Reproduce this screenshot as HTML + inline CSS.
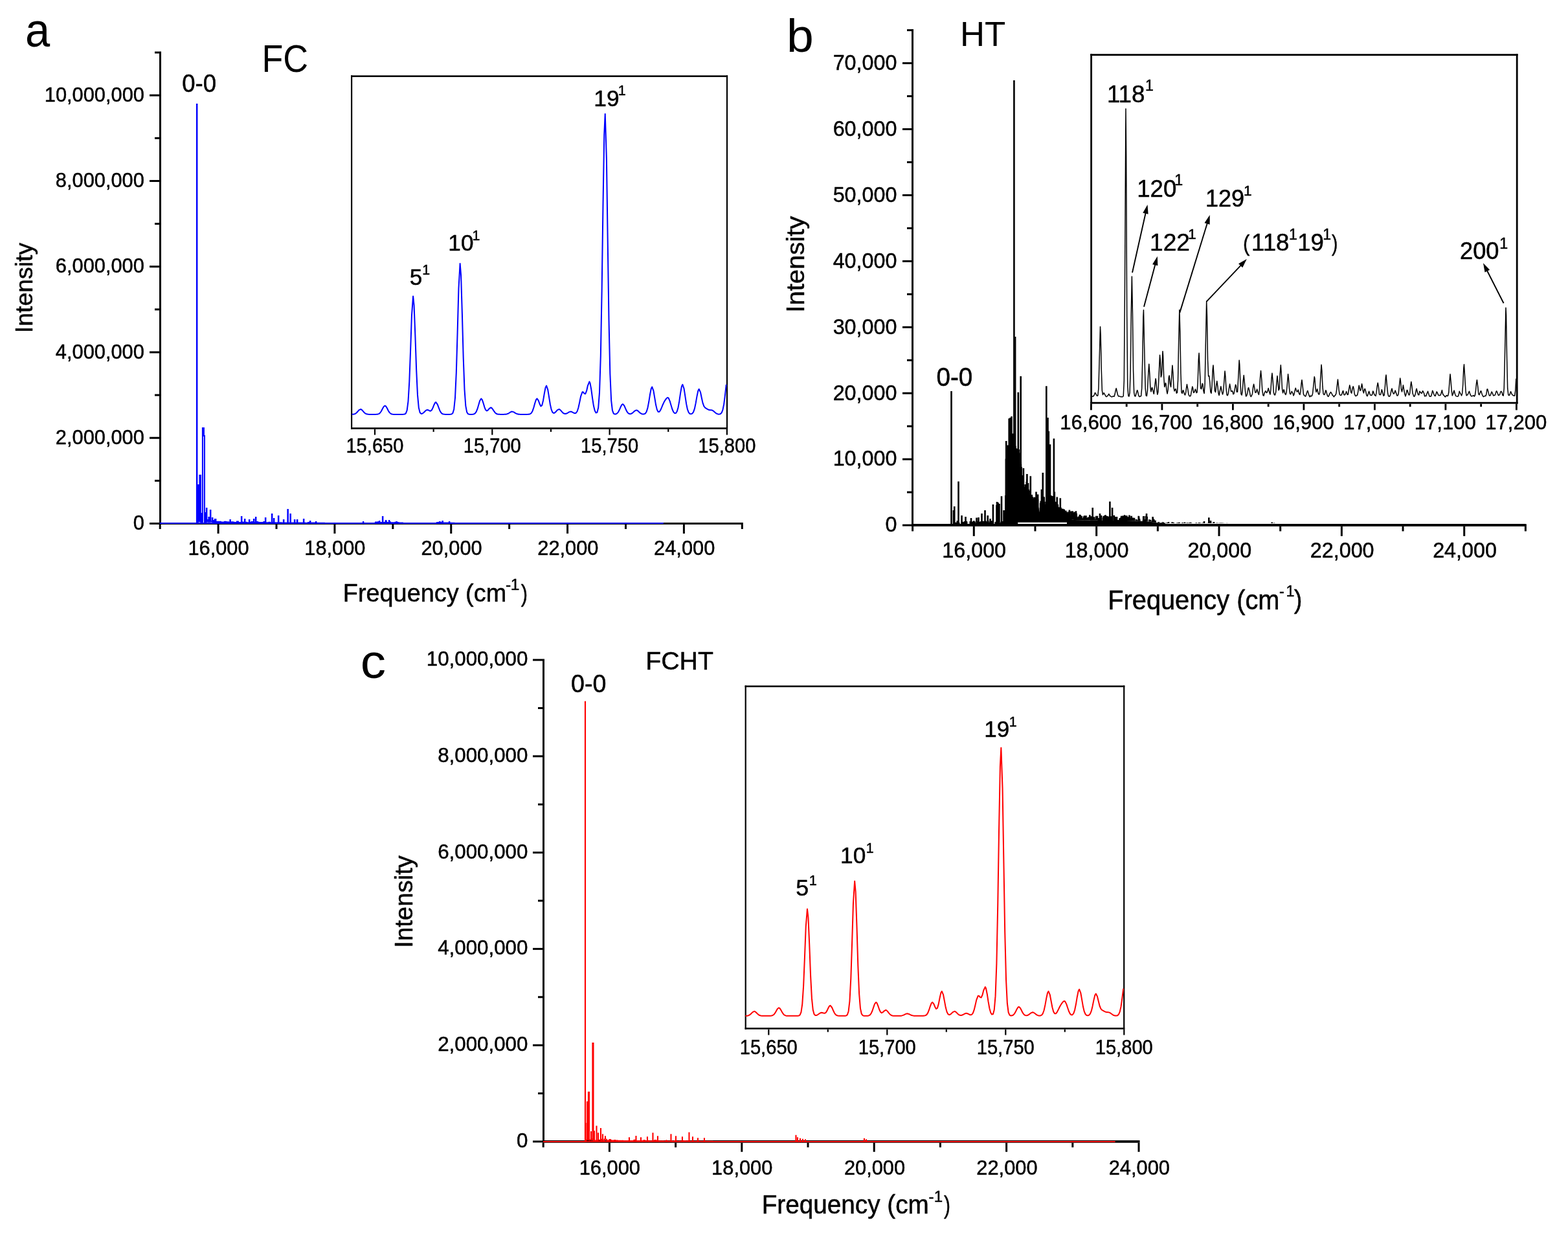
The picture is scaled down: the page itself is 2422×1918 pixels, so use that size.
<!DOCTYPE html>
<html><head><meta charset="utf-8"><title>Spectra</title>
<style>html,body{margin:0;padding:0;background:#fff;}svg{display:block;}</style>
</head><body>
<svg width="2422" height="1918" viewBox="0 0 2422 1918" font-family="'Liberation Sans', Arial, sans-serif">
<style>text{stroke:#000;stroke-width:0.5px;stroke-linejoin:round}text.big{stroke-width:0}</style>
<rect width="2422" height="1918" fill="#fff"/>
<rect x="246" y="79.5" width="3" height="730.5" fill="#000"/>
<rect x="231" y="807" width="15" height="3" fill="#000"/>
<rect x="231" y="674.74" width="15" height="3" fill="#000"/>
<rect x="231" y="542.48" width="15" height="3" fill="#000"/>
<rect x="231" y="410.22" width="15" height="3" fill="#000"/>
<rect x="231" y="277.96" width="15" height="3" fill="#000"/>
<rect x="231" y="145.7" width="15" height="3" fill="#000"/>
<rect x="239" y="740.87" width="7" height="3" fill="#000"/>
<rect x="239" y="608.61" width="7" height="3" fill="#000"/>
<rect x="239" y="476.35" width="7" height="3" fill="#000"/>
<rect x="239" y="344.09" width="7" height="3" fill="#000"/>
<rect x="239" y="211.83" width="7" height="3" fill="#000"/>
<rect x="239" y="79.57" width="7" height="3" fill="#000"/>
<rect x="246" y="807" width="901.8" height="3" fill="#000"/>
<rect x="335.61" y="810" width="3" height="14" fill="#000"/>
<rect x="515.43" y="810" width="3" height="14" fill="#000"/>
<rect x="695.25" y="810" width="3" height="14" fill="#000"/>
<rect x="875.07" y="810" width="3" height="14" fill="#000"/>
<rect x="1054.89" y="810" width="3" height="14" fill="#000"/>
<rect x="245.7" y="810" width="3" height="7" fill="#000"/>
<rect x="425.52" y="810" width="3" height="7" fill="#000"/>
<rect x="605.34" y="810" width="3" height="7" fill="#000"/>
<rect x="785.16" y="810" width="3" height="7" fill="#000"/>
<rect x="964.98" y="810" width="3" height="7" fill="#000"/>
<rect x="1144.8" y="810" width="3" height="7" fill="#000"/>
<text transform="translate(205.75,818.25)" font-size="30.8" fill="#000">0</text>
<text transform="translate(85.87,685.99)" font-size="30.8" fill="#000">2,000,000</text>
<text transform="translate(85.87,553.73)" font-size="30.8" fill="#000">4,000,000</text>
<text transform="translate(85.87,421.47)" font-size="30.8" fill="#000">6,000,000</text>
<text transform="translate(85.87,289.21)" font-size="30.8" fill="#000">8,000,000</text>
<text transform="translate(68.75,156.95)" font-size="30.8" fill="#000">10,000,000</text>
<text transform="translate(290.43,857.2)" font-size="30.8" fill="#000">16,000</text>
<text transform="translate(470.25,857.2)" font-size="30.8" fill="#000">18,000</text>
<text transform="translate(650.47,857.2)" font-size="30.8" fill="#000">20,000</text>
<text transform="translate(830.29,857.2)" font-size="30.8" fill="#000">22,000</text>
<text transform="translate(1010.11,857.2)" font-size="30.8" fill="#000">24,000</text>
<text transform="translate(50.01,514.14) rotate(-90) scale(1,1.0010)" font-size="37.41">Intensity</text>
<text transform="translate(529.8,929.2) scale(0.9682,1)" font-size="39.1" fill="#000">Frequency (cm</text>
<text x="781.02" y="910.8" font-size="24.56">-</text>
<text x="788.65" y="910.8" font-size="24.56">1</text>
<text transform="translate(804.82,929.07) scale(0.8147,1)" font-size="37.66" fill="#000">)</text>
<text transform="translate(38.92,72.15) scale(0.9157,1)" font-size="75" class="big" fill="#000">a</text>
<text transform="translate(404.5,111.41) scale(0.9098,1)" font-size="59.04" class="big" fill="#000">FC</text>
<text transform="translate(281.24,142.42) scale(0.9620,1)" font-size="37.99" fill="#000">0-0</text>
<rect x="1408" y="45" width="3" height="767.9" fill="#000"/>
<rect x="1394" y="809.6" width="14" height="3" fill="#000"/>
<rect x="1394" y="707.67" width="14" height="3" fill="#000"/>
<rect x="1394" y="605.74" width="14" height="3" fill="#000"/>
<rect x="1394" y="503.81" width="14" height="3" fill="#000"/>
<rect x="1394" y="401.88" width="14" height="3" fill="#000"/>
<rect x="1394" y="299.95" width="14" height="3" fill="#000"/>
<rect x="1394" y="198.02" width="14" height="3" fill="#000"/>
<rect x="1394" y="96.09" width="14" height="3" fill="#000"/>
<rect x="1401" y="758.63" width="7" height="3" fill="#000"/>
<rect x="1401" y="656.71" width="7" height="3" fill="#000"/>
<rect x="1401" y="554.77" width="7" height="3" fill="#000"/>
<rect x="1401" y="452.85" width="7" height="3" fill="#000"/>
<rect x="1401" y="350.92" width="7" height="3" fill="#000"/>
<rect x="1401" y="248.99" width="7" height="3" fill="#000"/>
<rect x="1401" y="147.05" width="7" height="3" fill="#000"/>
<rect x="1401" y="45.12" width="7" height="3" fill="#000"/>
<rect x="1408" y="809.3" width="949.9" height="3.6" fill="#000"/>
<rect x="1502.78" y="812.9" width="3" height="15" fill="#000"/>
<rect x="1692.14" y="812.9" width="3" height="15" fill="#000"/>
<rect x="1881.5" y="812.9" width="3" height="15" fill="#000"/>
<rect x="2070.86" y="812.9" width="3" height="15" fill="#000"/>
<rect x="2260.22" y="812.9" width="3" height="15" fill="#000"/>
<rect x="1408.1" y="812.9" width="3" height="7.5" fill="#000"/>
<rect x="1597.46" y="812.9" width="3" height="7.5" fill="#000"/>
<rect x="1786.82" y="812.9" width="3" height="7.5" fill="#000"/>
<rect x="1976.18" y="812.9" width="3" height="7.5" fill="#000"/>
<rect x="2165.54" y="812.9" width="3" height="7.5" fill="#000"/>
<rect x="2354.9" y="812.9" width="3" height="7.5" fill="#000"/>
<text transform="translate(1367.47,821.37)" font-size="32.3" fill="#000">0</text>
<text transform="translate(1286.65,719.44)" font-size="32.3" fill="#000">10,000</text>
<text transform="translate(1286.65,617.51)" font-size="32.3" fill="#000">20,000</text>
<text transform="translate(1286.65,515.58)" font-size="32.3" fill="#000">30,000</text>
<text transform="translate(1286.65,413.65)" font-size="32.3" fill="#000">40,000</text>
<text transform="translate(1286.65,311.72)" font-size="32.3" fill="#000">50,000</text>
<text transform="translate(1286.65,209.79)" font-size="32.3" fill="#000">60,000</text>
<text transform="translate(1286.65,107.86)" font-size="32.3" fill="#000">70,000</text>
<text transform="translate(1455.28,861.45)" font-size="32.3" fill="#000">16,000</text>
<text transform="translate(1644.64,861.45)" font-size="32.3" fill="#000">18,000</text>
<text transform="translate(1834.42,861.45)" font-size="32.3" fill="#000">20,000</text>
<text transform="translate(2023.78,861.45)" font-size="32.3" fill="#000">22,000</text>
<text transform="translate(2213.14,861.45)" font-size="32.3" fill="#000">24,000</text>
<text transform="translate(1241.53,482.68) rotate(-90) scale(1,0.9811)" font-size="40.03">Intensity</text>
<text transform="translate(1711.24,941.2) scale(0.9403,1)" font-size="42.3" fill="#000">Frequency (cm</text>
<text x="1975.88" y="920.5" font-size="23.26">-</text>
<text x="1986.59" y="920.5" font-size="23.26">1</text>
<text transform="translate(1998.77,940.45) scale(0.9439,1)" font-size="40.13" fill="#000">)</text>
<text transform="translate(1214.99,80.17) scale(1.0286,1)" font-size="73.02" class="big" fill="#000">b</text>
<text transform="translate(1482.98,71.1) scale(0.9824,1)" font-size="53.63" class="big" fill="#000">HT</text>
<text transform="translate(1446.45,596.39) scale(0.9441,1)" font-size="40.96" fill="#000">0-0</text>
<rect x="838" y="1017.6" width="3" height="746.4" fill="#000"/>
<rect x="823" y="1761.4" width="15" height="3" fill="#000"/>
<rect x="823" y="1612.64" width="15" height="3" fill="#000"/>
<rect x="823" y="1463.88" width="15" height="3" fill="#000"/>
<rect x="823" y="1315.12" width="15" height="3" fill="#000"/>
<rect x="823" y="1166.36" width="15" height="3" fill="#000"/>
<rect x="823" y="1017.6" width="15" height="3" fill="#000"/>
<rect x="831" y="1687.02" width="7" height="3" fill="#000"/>
<rect x="831" y="1538.26" width="7" height="3" fill="#000"/>
<rect x="831" y="1389.5" width="7" height="3" fill="#000"/>
<rect x="831" y="1240.74" width="7" height="3" fill="#000"/>
<rect x="831" y="1091.98" width="7" height="3" fill="#000"/>
<rect x="838" y="1761" width="922.5" height="3.8" fill="#000"/>
<rect x="939.9" y="1764.8" width="3" height="14" fill="#000"/>
<rect x="1144.3" y="1764.8" width="3" height="14" fill="#000"/>
<rect x="1348.7" y="1764.8" width="3" height="14" fill="#000"/>
<rect x="1553.1" y="1764.8" width="3" height="14" fill="#000"/>
<rect x="1757.5" y="1764.8" width="3" height="14" fill="#000"/>
<rect x="837.7" y="1764.8" width="3" height="7" fill="#000"/>
<rect x="1042.1" y="1764.8" width="3" height="7" fill="#000"/>
<rect x="1246.5" y="1764.8" width="3" height="7" fill="#000"/>
<rect x="1450.9" y="1764.8" width="3" height="7" fill="#000"/>
<rect x="1655.3" y="1764.8" width="3" height="7" fill="#000"/>
<text transform="translate(797.99,1771.82)" font-size="31.3" fill="#000">0</text>
<text transform="translate(676.17,1623.06)" font-size="31.3" fill="#000">2,000,000</text>
<text transform="translate(676.17,1474.3)" font-size="31.3" fill="#000">4,000,000</text>
<text transform="translate(676.17,1325.54)" font-size="31.3" fill="#000">6,000,000</text>
<text transform="translate(676.17,1176.78)" font-size="31.3" fill="#000">8,000,000</text>
<text transform="translate(658.76,1028.02)" font-size="31.3" fill="#000">10,000,000</text>
<text transform="translate(894.72,1813.8)" font-size="30.8" fill="#000">16,000</text>
<text transform="translate(1099.12,1813.8)" font-size="30.8" fill="#000">18,000</text>
<text transform="translate(1303.92,1813.8)" font-size="30.8" fill="#000">20,000</text>
<text transform="translate(1508.32,1813.8)" font-size="30.8" fill="#000">22,000</text>
<text transform="translate(1712.72,1813.8)" font-size="30.8" fill="#000">24,000</text>
<text transform="translate(1176.63,1873.8) scale(0.9616,1)" font-size="40.26" fill="#000">Frequency (cm</text>
<text x="1434.54" y="1855.9" font-size="24.13">-</text>
<text x="1442.8" y="1855.9" font-size="24.13">1</text>
<text transform="translate(1458.02,1873.69) scale(0.7769,1)" font-size="38.52" fill="#000">)</text>
<text transform="translate(636.81,1463.73) rotate(-90) scale(1,1.0024)" font-size="38.32">Intensity</text>
<text transform="translate(556.7,1047.15) scale(1.0488,1)" font-size="74.82" class="big" fill="#000">c</text>
<text transform="translate(997.2,1033.81)" font-size="39.27" fill="#000">FCHT</text>
<text transform="translate(881.99,1069.22) scale(0.9872,1)" font-size="38.14" fill="#000">0-0</text>
<line x1="246.9" y1="808" x2="1024.7" y2="808" stroke="#0000ff" stroke-width="2" stroke-linecap="butt"/>
<polyline points="246.9,808 303.9,808 303.9,161 304.4,161 304.4,808 304.9,808 304.9,805.66 306.4,805.66 306.4,749 307.9,749 307.9,805.15 308.4,805.15 308.4,734 309.9,734 309.9,805.69 310.9,805.69 310.9,806.1 311.4,806.1 311.4,793 311.9,793 311.9,806.1 312.4,806.1 312.4,805.65 312.9,805.65 312.9,661 314.9,661 314.9,673 315.9,673 315.9,806.28 316.9,806.28 316.9,792 317.4,792 317.4,806.32 318.4,806.32 318.4,803.06 318.9,803.06 318.9,785 319.4,785 319.4,803.06 320.4,803.06 320.4,805.5 321.9,805.5 321.9,805.86 322.4,805.86 322.4,799 322.9,799 322.9,805.86 323.9,805.86 323.9,805.53 324.9,805.53 324.9,788 325.4,788 325.4,805.53 325.9,805.53 325.9,805.15 327.9,805.15 327.9,800 328.4,800 328.4,806.19 329.9,806.19 329.9,804 330.4,804 330.4,806.16 331.4,806.16 331.4,806.21 331.9,806.21 331.9,802 332.4,802 332.4,806.21 332.9,806.21 332.9,802 333.4,802 333.4,806.29 335.4,806.29 335.4,805.86 337.4,805.86 337.4,806.04 339.4,806.04 339.4,805.84 340.9,805.84 340.9,806.74 342.9,806.74 342.9,806.5 346.9,806.5 346.9,805.77 348.9,805.77 348.9,806.22 352.4,806.22 352.4,806.89 354.4,806.89 354.4,806.42 355.4,806.42 355.4,803 355.9,803 355.9,806.42 356.4,806.42 356.4,806.92 358.4,806.92 358.4,806.36 359.9,806.36 359.9,806.75 361.9,806.75 361.9,807.01 363.9,807.01 363.9,806.95 365.9,806.95 365.9,805.41 367.9,805.41 367.9,807.02 372.9,807.02 372.9,798 373.4,798 373.4,806.61 375.4,806.61 375.4,807.01 377.4,807.01 377.4,807.08 377.9,807.08 377.9,802 378.4,802 378.4,807.08 378.9,807.08 378.9,806.76 380.9,806.76 380.9,807.17 384.9,807.17 384.9,803 385.4,803 385.4,806.88 386.9,806.88 386.9,806.98 388.4,806.98 388.4,806.04 390.4,806.04 390.4,807.13 391.9,807.13 391.9,802 392.4,802 392.4,806.88 394.4,806.88 394.4,807.08 394.9,807.08 394.9,799 395.4,799 395.4,807.08 396.4,807.08 396.4,805.88 397.9,805.88 397.9,806.73 399.9,806.73 399.9,807.06 401.9,807.06 401.9,807.31 403.9,807.31 403.9,807.05 405.9,807.05 405.9,807.19 407.4,807.19 407.4,806.07 409.4,806.07 409.4,807.34 409.9,807.34 409.9,800 410.4,800 410.4,807.34 411.4,807.34 411.4,807.23 413.4,807.23 413.4,807.4 415.4,807.4 415.4,806.7 416.9,806.7 416.9,807.19 418.9,807.19 418.9,807.4 419.9,807.4 419.9,794 420.4,794 420.4,807.4 420.9,807.4 420.9,807.09 422.9,807.09 422.9,801 423.4,801 423.4,807.15 424.9,807.15 424.9,807.41 426.4,807.41 426.4,807.49 428.4,807.49 428.4,807.27 429.9,807.27 429.9,797 430.4,797 430.4,807.36 434.4,807.36 434.4,807.57 435.9,807.57 435.9,807.38 437.9,807.38 437.9,803 438.4,803 438.4,807.58 439.9,807.58 439.9,807.47 441.9,807.47 441.9,807.52 443.9,807.52 443.9,807.6 444.4,807.6 444.4,787 444.9,787 444.9,807.6 445.4,807.6 445.4,807.44 448.4,807.44 448.4,794 448.9,794 448.9,807.45 451.4,807.45 451.4,807.56 453.4,807.56 453.4,807.44 454.9,807.44 454.9,803 455.4,803 455.4,807.57 456.9,807.57 456.9,807.48 458.9,807.48 458.9,803 459.4,803 459.4,807.54 462.9,807.54 462.9,807.67 464.4,807.67 464.4,807.49 466.4,807.49 466.4,807.56 468.9,807.56 468.9,802 469.4,802 469.4,807.56 470.4,807.56 470.4,807.63 472.4,807.63 472.4,807.7 475.9,807.7 475.9,807.05 477.9,807.05 477.9,807.65 478.9,807.65 478.9,805 479.4,805 479.4,807.65 479.9,807.65 479.9,807.58 481.9,807.58 481.9,807.75 483.4,807.75 483.4,807.51 485.4,807.51 485.4,807.61 487.4,807.61 487.4,807.69 487.9,807.69 487.9,806 488.4,806 488.4,807.69 498.9,807.69 498.9,807.77 500.9,807.77 500.9,808 560.9,808 560.9,806 561.4,806 561.4,808 579.9,808 579.9,806.6 581.9,806.6 581.9,806.73 583.9,806.73 583.9,806.18 585.9,806.18 585.9,805 586.4,805 586.4,807.08 590.9,807.08 590.9,798 591.4,798 591.4,806.94 593.4,806.94 593.4,807.11 595.4,807.11 595.4,805.93 595.9,805.93 595.9,804 596.4,804 596.4,805.93 596.9,805.93 596.9,807.19 598.9,807.19 598.9,806.95 600.9,806.95 600.9,804 601.4,804 601.4,806.13 602.9,806.13 602.9,807.35 610.4,807.35 610.4,806.81 612.4,806.81 612.4,806 612.9,806 612.9,807 614.4,807 614.4,807.13 615.9,807.13 615.9,807.55 619.9,807.55 619.9,807.5 621.9,807.5 621.9,808 674.9,808 674.9,807.08 676.9,807.08 676.9,807.42 678.9,807.42 678.9,806 679.4,806 679.4,806.67 680.9,806.67 680.9,807.36 682.4,807.36 682.4,807.49 683.4,807.49 683.4,805 683.9,805 683.9,807.49 684.4,807.49 684.4,807.41 688.4,807.41 688.4,807.56 691.9,807.56 691.9,807.64 693.9,807.64 693.9,806 694.4,806 694.4,807.73 695.9,807.73 695.9,807.65 697.9,807.65 697.9,807.74 701.4,807.74 701.4,808 1024.7,808 1024.7,808" fill="none" stroke="#0000ff" stroke-width="2" stroke-linejoin="miter"/>
<line x1="839.2" y1="1762.9" x2="1722.5" y2="1762.9" stroke="#ff0000" stroke-width="1.6" stroke-linecap="butt"/>
<polyline points="839.2,1762.9 903.7,1762.9 903.7,1083.5 904.2,1083.5 904.2,1762.9 905.2,1762.9 905.2,1760.53 906.2,1760.53 906.2,1734.8 906.7,1734.8 906.7,1701.5 907.7,1701.5 907.7,1760.32 908.7,1760.32 908.7,1686.6 910.2,1686.6 910.2,1760.74 910.7,1760.74 910.7,1760.3 912.7,1760.3 912.7,1747.8 913.2,1747.8 913.2,1760.58 914.7,1760.58 914.7,1759.34 915.2,1759.34 915.2,1610.9 916.7,1610.9 916.7,1761.14 917.7,1761.14 917.7,1747 918.2,1747 918.2,1761.29 921.2,1761.29 921.2,1739.3 921.7,1739.3 921.7,1761.3 922.2,1761.3 922.2,1761.08 923.7,1761.08 923.7,1750 924.2,1750 924.2,1760.47 925.7,1760.47 925.7,1760.6 927.7,1760.6 927.7,1742.8 928.2,1742.8 928.2,1761.42 929.7,1761.42 929.7,1759.61 930.7,1759.61 930.7,1752 931.2,1752 931.2,1759.61 931.7,1759.61 931.7,1761.44 933.7,1761.44 933.7,1759.35 934.7,1759.35 934.7,1755 935.2,1755 935.2,1759.62 937.2,1759.62 937.2,1761.31 939.2,1761.31 939.2,1761.18 941.2,1761.18 941.2,1759.72 943.2,1759.72 943.2,1760.96 944.7,1760.96 944.7,1761.23 946.7,1761.23 946.7,1761.49 948.7,1761.49 948.7,1760.78 950.7,1760.78 950.7,1761.55 952.7,1761.55 952.7,1761.26 954.2,1761.26 954.2,1761.84 956.2,1761.84 956.2,1761.59 958.2,1761.59 958.2,1761.76 960.2,1761.76 960.2,1761.67 962.2,1761.67 962.2,1761.88 965.7,1761.88 965.7,1761.96 967.7,1761.96 967.7,1761.8 969.7,1761.8 969.7,1761.99 971.7,1761.99 971.7,1757 972.2,1757 972.2,1761.92 973.2,1761.92 973.2,1761.79 977.2,1761.79 977.2,1762 979.2,1762 979.2,1760.62 981.2,1760.62 981.2,1761.2 982.2,1761.2 982.2,1754.7 982.7,1754.7 982.7,1761.75 984.7,1761.75 984.7,1761.97 986.7,1761.97 986.7,1761.87 988.7,1761.87 988.7,1761.72 989.7,1761.72 989.7,1757 990.2,1757 990.2,1761.72 990.7,1761.72 990.7,1762.19 992.2,1762.19 992.2,1761.86 994.2,1761.86 994.2,1761.13 996.2,1761.13 996.2,1762.04 998.2,1762.04 998.2,1762.15 999.7,1762.15 999.7,1756 1000.2,1756 1000.2,1761.47 1001.7,1761.47 1001.7,1761.93 1005.7,1761.93 1005.7,1762.04 1007.7,1762.04 1007.7,1762.24 1008.2,1762.24 1008.2,1750 1008.7,1750 1008.7,1762.24 1011.2,1762.24 1011.2,1760.88 1013.2,1760.88 1013.2,1761.62 1015.2,1761.62 1015.2,1762.03 1015.7,1762.03 1015.7,1755 1016.2,1755 1016.2,1762.03 1017.2,1762.03 1017.2,1762.17 1019.2,1762.17 1019.2,1762.07 1020.7,1762.07 1020.7,1762.27 1022.7,1762.27 1022.7,1762.12 1024.7,1762.12 1024.7,1762.24 1026.7,1762.24 1026.7,1762.32 1028.7,1762.32 1028.7,1761.42 1030.2,1761.42 1030.2,1762.18 1034.2,1762.18 1034.2,1762.32 1036.2,1762.32 1036.2,1752 1036.7,1752 1036.7,1761.97 1038.2,1761.97 1038.2,1762.4 1039.7,1762.4 1039.7,1762.31 1041.7,1762.31 1041.7,1761.76 1043.7,1761.76 1043.7,1755 1044.2,1755 1044.2,1762.33 1045.7,1762.33 1045.7,1762.46 1049.2,1762.46 1049.2,1762.18 1051.2,1762.18 1051.2,1762.38 1053.7,1762.38 1053.7,1756 1054.2,1756 1054.2,1762.4 1055.2,1762.4 1055.2,1762 1057.2,1762 1057.2,1761.82 1058.7,1761.82 1058.7,1762.19 1060.7,1762.19 1060.7,1762.04 1062.7,1762.04 1062.7,1762.13 1064.2,1762.13 1064.2,1749.2 1064.7,1749.2 1064.7,1762.55 1069.7,1762.55 1069.7,1756 1070.2,1756 1070.2,1762.5 1072.2,1762.5 1072.2,1762.57 1074.2,1762.57 1074.2,1762.47 1076.2,1762.47 1076.2,1762.59 1077.7,1762.59 1077.7,1758 1078.2,1758 1078.2,1762.5 1087.2,1762.5 1087.2,1762.58 1087.7,1762.58 1087.7,1758 1088.2,1758 1088.2,1762.58 1089.2,1762.58 1089.2,1762.45 1091.2,1762.45 1091.2,1762.59 1093.2,1762.59 1093.2,1762.67 1096.7,1762.67 1096.7,1762.6 1100.7,1762.6 1100.7,1762.9 1229.2,1762.9 1229.2,1753.5 1229.7,1753.5 1229.7,1762.9 1231.7,1762.9 1231.7,1757 1232.2,1757 1232.2,1762.9 1235.7,1762.9 1235.7,1758.5 1236.2,1758.5 1236.2,1762.9 1239.7,1762.9 1239.7,1759.5 1240.2,1759.5 1240.2,1762.9 1243.7,1762.9 1243.7,1760 1244.2,1760 1244.2,1762.9 1334.7,1762.9 1334.7,1758.5 1335.2,1758.5 1335.2,1762.9 1337.7,1762.9 1337.7,1760 1338.2,1760 1338.2,1762.9 1722.5,1762.9 1722.5,1762.9" fill="none" stroke="#ff0000" stroke-width="1.6" stroke-linejoin="miter"/>
<rect x="542" y="116.4" width="2.2" height="546.4" fill="#000"/>
<rect x="1121.9" y="116.4" width="2.2" height="546.4" fill="#000"/>
<rect x="542" y="116.4" width="582.1" height="2.6" fill="#000"/>
<rect x="542" y="660.2" width="582.1" height="2.6" fill="#000"/>
<polyline points="543.47,639.87 545.28,639.79 547.09,639.51 548.9,638.83 550.72,637.51 552.53,635.54 554.34,633.45 556.88,632 557.97,632.29 559.78,633.84 561.6,635.97 563.41,637.83 565.22,639.01 567.03,639.59 568.85,639.81 570.66,639.88 572.47,639.9 574.29,639.9 576.1,639.9 577.91,639.9 579.73,639.89 581.54,639.84 583.35,639.65 585.16,639.08 586.98,637.73 588.79,635.25 590.6,631.77 592.42,628.35 594.59,626.5 596.04,627.36 597.86,630.31 599.67,633.94 601.48,636.89 603.29,638.66 605.11,639.49 606.92,639.79 608.73,639.88 610.55,639.9 612.36,639.9 614.17,639.9 615.99,639.9 617.8,639.9 619.61,639.9 621.42,639.9 623.24,639.86 625.05,639.62 626.86,638.41 628.68,633.69 630.49,619.78 632.3,589.16 634.12,540.24 635.93,487.46 638.1,457.4 639.55,471.43 641.37,518.18 643.18,571.4 644.99,609.88 646.81,629.62 648.62,637.05 650.43,638.91 652.25,638.69 654.06,637.49 655.87,635.71 657.68,633.94 659.86,632.93 661.31,633.23 663.12,634.23 664.94,634.72 666.75,633.42 668.56,629.91 670.38,625.26 672.19,621.73 673.28,621.08 675.81,624.54 677.63,629.53 679.44,634.2 681.25,637.36 683.07,638.98 684.88,639.63 686.69,639.83 688.51,639.89 690.32,639.9 692.13,639.9 693.94,639.89 695.76,639.85 697.57,639.54 699.38,637.99 701.2,631.97 703.01,614.23 704.82,575.17 706.64,512.77 708.45,445.45 710.62,407.1 712.07,425 713.89,484.63 715.7,552.53 717.51,601.61 719.33,626.83 721.14,636.43 722.95,639.18 724.77,639.78 726.58,639.88 728.39,639.88 730.2,639.79 732.02,639.44 733.83,638.41 735.64,635.97 737.46,631.46 739.27,625.16 741.08,618.96 743.26,615.59 744.71,617.12 746.52,622.36 748.33,628.57 750.15,633.01 751.96,634.47 753.77,633.36 755.59,631.12 758.12,629.38 759.21,629.78 761.03,631.84 762.84,634.68 764.65,637.15 766.46,638.72 768.28,639.49 770.09,639.78 771.9,639.87 773.72,639.89 775.53,639.9 777.34,639.89 779.16,639.85 780.97,639.73 782.78,639.42 784.59,638.77 786.41,637.76 788.22,636.6 790.03,635.76 791.12,635.6 793.66,636.39 795.47,637.53 797.29,638.6 799.1,639.32 800.91,639.69 802.72,639.84 804.54,639.88 806.35,639.9 808.16,639.9 809.98,639.9 811.79,639.9 813.6,639.89 815.42,639.85 817.23,639.7 819.04,639.15 820.85,637.65 822.67,634.43 824.48,629.09 826.29,622.51 828.11,617.14 829.56,615.54 831.73,618.59 833.55,623.79 835.36,627.37 837.17,626.03 838.98,618.75 840.8,607.81 842.61,598.41 844.06,595.67 846.24,601.8 848.05,613.09 849.86,624.53 851.68,632.64 853.49,636.81 855.3,638 857.11,637.3 858.93,635.5 860.74,633.44 863.28,632 864.37,632.29 866.18,633.83 867.99,635.96 869.81,637.77 871.62,638.8 873.43,639.01 875.24,638.51 877.06,637.51 878.87,636.38 881.41,635.6 882.5,635.75 884.31,636.58 886.12,637.64 887.94,638.29 889.75,637.77 891.56,635.21 893.37,629.73 895.19,621.43 897,612.45 899.54,605.29 900.63,605.28 902.44,607.54 904.25,608.23 906.07,603.73 907.88,595.56 910.42,589.39 911.5,591.64 913.32,601.66 915.13,615.16 916.94,626.86 918.76,634.24 920.57,637.48 922.38,636.9 924.2,629.54 926.01,605.83 927.82,549.64 929.63,449.14 931.45,318.55 933.26,208.38 934.71,175.9 936.89,245.79 938.7,371.86 940.51,494.59 942.33,577.1 944.14,618.27 945.95,633.96 947.76,638.57 949.58,639.54 951.39,639.38 953.2,638.43 955.02,636.32 956.83,632.83 958.64,628.52 960.46,625.02 961.91,624 964.08,626.2 965.89,630.26 967.71,634.38 969.52,637.31 971.33,638.83 973.15,639.28 974.96,638.95 976.77,637.92 978.59,636.31 980.4,634.59 982.94,633.4 984.02,633.64 985.84,634.91 987.65,636.67 989.46,638.19 991.28,639.16 993.09,639.57 994.9,639.47 996.72,638.57 998.53,635.97 1000.34,630.36 1002.15,621.04 1003.97,609.56 1005.78,600.21 1007.23,597.5 1009.41,603.36 1011.22,614.16 1013.03,625.06 1014.85,632.61 1016.66,636 1018.47,635.91 1020.28,633.28 1022.1,629.15 1023.91,624.71 1025.36,621.59 1027.54,617.82 1029.35,615.31 1031.16,613.98 1032.61,614.72 1034.79,619.65 1036.6,625.99 1038.41,632.01 1040.23,636.16 1042.04,638.13 1043.85,638.05 1045.67,635.53 1047.48,629.51 1049.29,619.39 1051.11,606.91 1052.92,596.75 1054.37,593.8 1056.54,600.17 1058.36,611.94 1060.17,623.89 1061.98,632.45 1063.8,637.07 1065.61,638.96 1067.42,639.36 1069.24,638.65 1071.05,636.3 1072.86,631.17 1074.67,622.63 1076.49,612.12 1078.3,603.49 1079.75,600.85 1081.93,605.56 1083.74,614.27 1085.55,622.44 1087.37,627.44 1089.18,629.63 1090.27,630.33 1092.8,631.83 1094.62,632.78 1096.43,633.18 1098.24,633.2 1099.69,633.41 1101.87,634.61 1103.68,636.23 1105.5,637.81 1107.31,638.92 1109.12,639.5 1110.93,639.63 1112.75,639.21 1114.56,637.54 1116.37,633.16 1118.19,624.17 1120,610.06 1121.81,593.84" fill="none" stroke="#0000ff" stroke-width="2" stroke-linejoin="round"/>
<rect x="577.9" y="662.8" width="2.2" height="8.8" fill="#000"/>
<rect x="759.2" y="662.8" width="2.2" height="8.8" fill="#000"/>
<rect x="940.5" y="662.8" width="2.2" height="8.8" fill="#000"/>
<rect x="1121.8" y="662.8" width="2.2" height="8.8" fill="#000"/>
<rect x="668.55" y="662.8" width="2.2" height="4.1" fill="#000"/>
<rect x="849.85" y="662.8" width="2.2" height="4.1" fill="#000"/>
<rect x="1031.15" y="662.8" width="2.2" height="4.1" fill="#000"/>
<text transform="translate(534.41,699.29) scale(0.9550,1)" font-size="30.5" fill="#000">15,650</text>
<text transform="translate(715.71,699.29) scale(0.9550,1)" font-size="30.5" fill="#000">15,700</text>
<text transform="translate(897.01,699.29) scale(0.9550,1)" font-size="30.5" fill="#000">15,750</text>
<text transform="translate(1078.31,699.29) scale(0.9550,1)" font-size="30.5" fill="#000">15,800</text>
<text transform="translate(632.7,440.35)" font-size="35.1" fill="#000">5</text>
<text x="652.24" y="423.8" font-size="21.37">1</text>
<text transform="translate(692.33,387.45)" font-size="35.17" fill="#000">10</text>
<text x="729.54" y="370.8" font-size="21.37">1</text>
<text transform="translate(917.32,163.55)" font-size="35.31" fill="#000">19</text>
<text x="954.74" y="146.8" font-size="21.37">1</text>
<rect x="1150.6" y="1058.6" width="2.2" height="531" fill="#000"/>
<rect x="1735.1" y="1058.6" width="2.2" height="531" fill="#000"/>
<rect x="1150.6" y="1058.6" width="586.7" height="2.6" fill="#000"/>
<rect x="1150.6" y="1587" width="586.7" height="2.6" fill="#000"/>
<polyline points="1151.43,1568.78 1153.26,1568.7 1155.09,1568.46 1156.92,1567.85 1158.75,1566.68 1160.58,1564.94 1162.41,1563.08 1164.97,1561.8 1166.07,1562.06 1167.9,1563.43 1169.73,1565.32 1171.56,1566.96 1173.39,1568.01 1175.22,1568.53 1177.05,1568.72 1178.88,1568.78 1180.71,1568.8 1182.54,1568.8 1184.37,1568.8 1186.2,1568.8 1188.03,1568.79 1189.86,1568.74 1191.69,1568.56 1193.52,1568.03 1195.35,1566.78 1197.18,1564.46 1199.01,1561.22 1200.84,1558.03 1203.04,1556.3 1204.5,1557.1 1206.33,1559.86 1208.16,1563.24 1209.99,1565.99 1211.82,1567.64 1213.65,1568.41 1215.48,1568.69 1217.31,1568.78 1219.14,1568.8 1220.97,1568.8 1222.8,1568.8 1224.63,1568.8 1226.46,1568.8 1228.29,1568.8 1230.12,1568.8 1231.95,1568.76 1233.78,1568.55 1235.61,1567.45 1237.44,1563.18 1239.27,1550.61 1241.1,1522.92 1242.93,1478.7 1244.76,1430.98 1246.96,1403.8 1248.42,1416.49 1250.25,1458.75 1252.08,1506.87 1253.91,1541.66 1255.74,1559.51 1257.57,1566.24 1259.4,1567.98 1261.23,1567.91 1263.06,1567.05 1264.89,1565.77 1266.72,1564.48 1268.92,1563.74 1270.38,1563.94 1272.21,1564.6 1274.04,1564.78 1275.87,1563.48 1277.7,1560.38 1279.53,1556.36 1281.36,1553.34 1282.46,1552.78 1285.02,1555.73 1286.85,1559.98 1288.68,1563.95 1290.51,1566.63 1292.34,1568.01 1294.17,1568.57 1296,1568.74 1297.83,1568.79 1299.66,1568.8 1301.49,1568.8 1303.32,1568.79 1305.15,1568.75 1306.98,1568.48 1308.81,1567.1 1310.64,1561.72 1312.47,1545.87 1314.3,1510.97 1316.13,1455.22 1317.96,1395.06 1320.16,1360.8 1321.62,1376.79 1323.45,1430.07 1325.28,1490.74 1327.11,1534.59 1328.94,1557.12 1330.77,1565.7 1332.6,1568.16 1334.43,1568.7 1336.26,1568.78 1338.09,1568.78 1339.92,1568.7 1341.75,1568.4 1343.58,1567.51 1345.41,1565.41 1347.24,1561.51 1349.07,1556.06 1350.9,1550.7 1353.1,1547.79 1354.56,1549.11 1356.39,1553.64 1358.22,1559.01 1360.05,1562.86 1361.88,1564.13 1363.71,1563.19 1365.54,1561.27 1368.1,1559.78 1369.2,1560.12 1371.03,1561.89 1372.86,1564.32 1374.69,1566.44 1376.52,1567.79 1378.35,1568.45 1380.18,1568.7 1382.01,1568.78 1383.84,1568.8 1385.67,1568.8 1387.5,1568.79 1389.33,1568.76 1391.16,1568.66 1392.99,1568.41 1394.82,1567.88 1396.65,1567.06 1398.48,1566.11 1400.31,1565.43 1401.41,1565.3 1403.97,1565.94 1405.8,1566.87 1407.63,1567.74 1409.46,1568.33 1411.29,1568.63 1413.12,1568.75 1414.95,1568.79 1416.78,1568.8 1418.61,1568.8 1420.44,1568.8 1422.27,1568.8 1424.1,1568.79 1425.93,1568.76 1427.76,1568.62 1429.59,1568.15 1431.42,1566.86 1433.25,1564.08 1435.08,1559.46 1436.91,1553.77 1438.74,1549.13 1440.21,1547.75 1442.4,1550.38 1444.23,1554.89 1446.06,1557.99 1447.89,1556.86 1449.72,1550.61 1451.55,1541.21 1453.38,1533.13 1454.85,1530.77 1457.04,1536.05 1458.87,1545.75 1460.7,1555.58 1462.53,1562.56 1464.36,1566.13 1466.19,1567.14 1468.02,1566.5 1469.85,1564.9 1471.68,1563.08 1474.24,1561.8 1475.34,1562.06 1477.17,1563.42 1479,1565.3 1480.83,1566.91 1482.66,1567.82 1484.49,1567.98 1486.32,1567.51 1488.15,1566.58 1489.98,1565.53 1492.54,1564.8 1493.64,1564.94 1495.47,1565.71 1497.3,1566.71 1499.13,1567.32 1500.96,1566.88 1502.79,1564.58 1504.62,1559.66 1506.45,1552.21 1508.28,1544.14 1510.84,1537.73 1511.94,1537.73 1513.77,1539.82 1515.6,1540.55 1517.43,1536.67 1519.26,1529.49 1521.82,1524.07 1522.92,1526.07 1524.75,1534.95 1526.58,1546.9 1528.41,1557.26 1530.24,1563.79 1532.07,1566.66 1533.9,1566.12 1535.73,1559.56 1537.56,1538.4 1539.39,1488.26 1541.22,1398.6 1543.05,1282.08 1544.88,1183.78 1546.35,1154.8 1548.54,1217.16 1550.37,1329.64 1552.2,1439.15 1554.03,1512.77 1555.86,1549.5 1557.69,1563.5 1559.52,1567.61 1561.35,1568.48 1563.18,1568.34 1565.01,1567.5 1566.84,1565.65 1568.67,1562.57 1570.5,1558.78 1572.33,1555.7 1573.8,1554.8 1575.99,1556.74 1577.82,1560.31 1579.65,1563.94 1581.48,1566.52 1583.31,1567.86 1585.14,1568.27 1586.97,1567.99 1588.8,1567.12 1590.63,1565.76 1592.46,1564.31 1595.02,1563.3 1596.12,1563.5 1597.95,1564.58 1599.78,1566.06 1601.61,1567.36 1603.44,1568.17 1605.27,1568.51 1607.1,1568.42 1608.93,1567.61 1610.76,1565.28 1612.59,1560.25 1614.42,1551.89 1616.25,1541.61 1618.08,1533.23 1619.55,1530.8 1621.74,1536.05 1623.57,1545.73 1625.4,1555.51 1627.23,1562.28 1629.06,1565.36 1630.89,1565.35 1632.72,1563.11 1634.55,1559.56 1636.38,1555.71 1637.85,1552.97 1640.04,1549.56 1641.87,1547.21 1643.7,1545.91 1645.17,1546.5 1647.36,1550.83 1649.19,1556.44 1651.02,1561.79 1652.85,1565.48 1654.68,1567.23 1656.51,1567.15 1658.34,1564.91 1660.17,1559.56 1662,1550.56 1663.83,1539.46 1665.66,1530.42 1667.13,1527.8 1669.32,1533.47 1671.15,1543.93 1672.98,1554.56 1674.81,1562.17 1676.64,1566.28 1678.47,1567.96 1680.3,1568.32 1682.13,1567.71 1683.96,1565.65 1685.79,1561.15 1687.62,1553.67 1689.45,1544.45 1691.28,1536.9 1692.75,1534.58 1694.94,1538.71 1696.77,1546.34 1698.6,1553.5 1700.43,1557.89 1702.26,1559.82 1703.36,1560.44 1705.92,1561.8 1707.75,1562.68 1709.58,1563.1 1711.41,1563.17 1712.88,1563.37 1715.07,1564.39 1716.9,1565.74 1718.73,1567.06 1720.56,1567.99 1722.39,1568.47 1724.22,1568.56 1726.05,1568.17 1727.88,1566.64 1729.71,1562.62 1731.54,1554.38 1733.37,1541.44 1735.2,1526.58" fill="none" stroke="#ff0000" stroke-width="2" stroke-linejoin="round"/>
<rect x="1186.2" y="1589.6" width="2.2" height="8.8" fill="#000"/>
<rect x="1369.2" y="1589.6" width="2.2" height="8.8" fill="#000"/>
<rect x="1552.2" y="1589.6" width="2.2" height="8.8" fill="#000"/>
<rect x="1735.2" y="1589.6" width="2.2" height="8.8" fill="#000"/>
<rect x="1277.7" y="1589.6" width="2.2" height="4.1" fill="#000"/>
<rect x="1460.7" y="1589.6" width="2.2" height="4.1" fill="#000"/>
<rect x="1643.7" y="1589.6" width="2.2" height="4.1" fill="#000"/>
<text transform="translate(1142.71,1627.69) scale(0.9550,1)" font-size="30.5" fill="#000">15,650</text>
<text transform="translate(1325.71,1627.69) scale(0.9550,1)" font-size="30.5" fill="#000">15,700</text>
<text transform="translate(1508.71,1627.69) scale(0.9550,1)" font-size="30.5" fill="#000">15,750</text>
<text transform="translate(1691.71,1627.69) scale(0.9550,1)" font-size="30.5" fill="#000">15,800</text>
<text transform="translate(1229.27,1383.44)" font-size="35.82" fill="#000">5</text>
<text x="1249.64" y="1366.9" font-size="21.66">1</text>
<text transform="translate(1298.12,1333.45)" font-size="35.31" fill="#000">10</text>
<text x="1337.68" y="1316.6" font-size="21.22">1</text>
<text transform="translate(1520.24,1138.45)" font-size="35.03" fill="#000">19</text>
<text x="1558.78" y="1121.8" font-size="21.22">1</text>
<rect x="1684.2" y="83.3" width="2.8" height="540.3" fill="#000"/>
<rect x="2341.8" y="83.3" width="2.8" height="540.3" fill="#000"/>
<rect x="1684.2" y="83.3" width="660.4" height="2.8" fill="#000"/>
<rect x="1684.2" y="620.8" width="660.4" height="2.8" fill="#000"/>
<polyline points="1685.95,612.38 1687.04,612.26 1688.14,612.15 1689.23,611.49 1690.33,609.7 1691.42,606.62 1691.97,606.97 1693.61,609.97 1694.71,611.42 1695.8,610.93 1696.9,599.86 1697.99,561.41 1699.53,504.53 1700.18,518.49 1701.28,571.37 1702.37,603.48 1703.47,609.62 1704.56,607.29 1705.11,606.71 1706.75,609.52 1707.85,611.67 1708.94,612.74 1710.04,611.82 1711.13,611.15 1712.78,608.38 1713.32,609.23 1714.42,611.29 1715.51,611.75 1716.61,612.75 1717.7,612.78 1718.8,612.02 1719.89,612.09 1720.99,612.18 1722.08,608.79 1723.18,603.11 1724.16,599.62 1725.37,604.76 1726.46,609.66 1727.56,611.97 1728.65,612.01 1729.75,612.11 1730.84,612.7 1731.94,612.64 1733.03,612.83 1734.13,612.83 1735.22,611.56 1736.32,587.72 1737.41,445.38 1738.95,168 1739.6,240.63 1740.7,488.94 1741.79,597.54 1742.89,611.48 1743.98,612.07 1745.08,606.49 1746.17,571.52 1747.27,484.85 1748.36,426.94 1749.46,484.58 1750.55,571.98 1751.65,606.05 1752.74,611.62 1753.84,612.03 1754.93,607.94 1756.58,602.63 1757.12,603.32 1758.22,608.72 1759.31,612.01 1760.41,612.72 1761.5,611.98 1762.6,611.5 1763.69,599.63 1764.79,554.83 1765.88,490.14 1766.43,478.66 1768.07,555.41 1769.17,599.86 1770.26,610.83 1771.36,611.51 1772.45,602.81 1773.55,580.56 1774.75,562.13 1775.74,576.02 1776.83,597.97 1777.93,604.85 1779.02,599.76 1779.57,598.35 1781.21,604.46 1782.31,608.29 1783.4,599.02 1785.05,584.64 1785.59,587.65 1786.69,600.63 1787.78,609.22 1788.88,605.4 1789.97,582.59 1791.51,548.16 1792.16,554.86 1793.26,582.26 1794.35,578.94 1796,542.38 1796.54,549.58 1797.64,581.06 1798.73,597.46 1800.38,591.35 1800.92,592.7 1802.02,603.13 1803.11,607.97 1804.21,601.6 1805.3,583.28 1806.07,579.89 1807.49,593.1 1808.59,597.57 1809.68,582.39 1810.89,564.14 1811.87,575.91 1812.97,598.29 1814.06,603.95 1815.71,600.7 1816.25,600.98 1817.35,607.27 1818.44,606.27 1819.54,587.23 1820.63,528.32 1821.84,478.5 1822.82,513.69 1823.92,576.76 1825.01,605.53 1826.11,607.52 1827.2,602.97 1827.75,602.8 1829.39,608.33 1830.49,610.06 1831.58,606.85 1832.68,597.93 1833.44,593.53 1834.87,601.63 1835.96,609.13 1837.06,611.46 1838.15,611.91 1839.25,610.88 1840.34,604.93 1841.77,597.03 1842.53,599.1 1843.63,606.46 1844.72,605.87 1846.37,601.04 1846.91,602.15 1848.01,606.69 1849.1,605.9 1850.2,589.53 1851.29,555.56 1852.06,545.29 1853.48,576.17 1854.58,599.74 1855.67,600.65 1857.21,592.25 1857.86,593.18 1858.96,603.64 1860.05,607.6 1861.15,592.93 1862.24,534.03 1863.67,465.2 1864.43,488.18 1865.53,555.94 1866.62,581.06 1867.72,580.55 1868.81,590.4 1869.91,605.25 1871,607.34 1872.1,594.99 1873.19,571.04 1873.96,564.12 1875.38,585.5 1876.48,603.6 1877.57,605.65 1878.67,595.44 1879.76,588.61 1880.86,596.62 1881.95,606.69 1883.05,610.53 1884.14,604.88 1885.79,596.66 1886.33,599.07 1887.43,605.24 1888.52,609.09 1889.62,604.94 1890.71,590.52 1892.03,573.05 1892.9,581.71 1894,600.17 1895.09,609.96 1896.19,610.8 1897.28,607.66 1898.38,600.01 1899.58,593.1 1900.57,598.93 1901.66,604.59 1903.31,603.67 1903.85,604.02 1904.95,608.72 1906.04,607.96 1907.14,601.32 1908.56,593.89 1909.33,596 1910.42,605.35 1911.52,605.31 1912.61,585.87 1914.15,556.21 1914.8,563.67 1915.9,591.24 1916.99,608.46 1918.09,610.09 1919.18,603.86 1920.28,587.91 1921.26,579.52 1922.47,592.15 1923.56,604.7 1924.66,612.05 1925.75,610.84 1926.85,606.98 1927.94,599.76 1928.6,598.71 1930.13,604.25 1931.23,610.48 1932.32,612.67 1933.42,610.67 1934.51,607.91 1935.61,597.65 1936.59,593.15 1937.8,599.43 1938.89,606.08 1939.99,606.18 1941.08,602.82 1941.63,600.96 1943.27,607 1944.37,609.51 1945.46,602.59 1946.56,582.79 1947.54,572.59 1948.75,585.92 1949.84,603.21 1950.94,610.36 1952.03,611.21 1953.13,606.92 1954.22,604.8 1954.77,603.7 1956.41,606.61 1957.51,605.49 1958.6,601.64 1959.15,599.4 1960.79,605.49 1961.89,609.07 1962.98,601.23 1964.08,584.17 1964.95,576.27 1966.27,589.68 1967.36,606.27 1968.46,609.8 1969.55,609.88 1970.65,605.85 1971.74,593.36 1972.95,580.54 1973.93,589.56 1975.03,602.7 1976.12,600.37 1977.22,577.56 1978.31,563.76 1979.41,579.3 1980.5,600.29 1981.6,606.83 1982.69,602.23 1983.24,601.87 1984.88,607.96 1985.98,609.55 1987.07,606.23 1988.17,595.02 1989.59,577.67 1990.36,584.06 1991.45,599.18 1992.55,608.13 1993.64,608.78 1995.29,604.33 1995.83,605.33 1996.93,607.07 1998.02,611.01 1999.12,608.34 2000.21,602.97 2001.2,599.32 2002.4,603.05 2003.5,605.03 2004.59,604.2 2005.14,602.01 2006.78,608.3 2007.88,609.53 2008.97,604.73 2010.07,592.63 2010.94,586.68 2012.26,597.33 2013.35,608.09 2014.45,610.61 2015.54,611.41 2016.64,612.15 2017.73,608.95 2019.38,603.86 2019.92,603.43 2021.02,607.36 2022.11,610.88 2023.21,612.89 2024.3,611.05 2025.4,611.91 2026.49,611.18 2027.59,607.83 2028.68,597.12 2030.22,581.78 2030.87,584.44 2031.97,599.7 2033.06,605.42 2034.71,600.82 2035.25,603.4 2036.35,607.94 2037.44,609.2 2038.54,606.24 2039.63,585.57 2041.06,563.26 2041.82,572.04 2042.92,596.18 2044.01,607.91 2045.11,609.6 2046.2,608.79 2047.85,602.8 2048.39,603.44 2049.49,607.91 2050.58,611.32 2051.68,612.46 2052.77,610.87 2053.87,607.98 2054.96,606.46 2055.51,605.42 2057.15,607.96 2058.25,610.36 2059.34,611.27 2060.44,612.93 2061.53,611.18 2062.63,610.31 2063.72,608.15 2064.82,600.57 2065.91,590.13 2066.46,585.89 2068.1,601.77 2069.2,609.03 2070.29,610.3 2071.39,610.45 2072.48,609.25 2074.12,604.27 2074.67,603.42 2075.77,609.14 2076.86,610.06 2077.96,608.9 2079.05,606.22 2079.6,604.44 2081.24,609.53 2082.34,609.18 2083.43,601.54 2084.75,594.82 2085.62,598.7 2086.72,605.85 2087.81,607.2 2088.91,600.6 2090.11,596.66 2091.1,600.14 2092.19,608.13 2093.29,610.83 2094.38,611.71 2095.48,610.45 2096.57,610.25 2097.67,605.23 2099.2,595.21 2099.86,598.43 2100.95,603.3 2102.05,601.91 2103.58,592.68 2104.24,595.83 2105.33,603.85 2106.43,606.92 2107.52,601.52 2108.29,600.35 2109.71,604.79 2110.81,610.02 2111.9,611.81 2113,609.41 2114.09,605.7 2114.64,604.16 2116.28,609.56 2117.38,610.48 2118.47,610.54 2119.57,609.37 2120.66,604.05 2121.21,604.77 2122.85,609.27 2123.95,610.7 2125.04,611.45 2126.14,605.44 2127.23,596.34 2128.22,591.19 2129.42,597.71 2130.52,608.87 2131.61,609.79 2132.71,608.99 2133.8,604.43 2134.35,601.62 2135.99,607.44 2137.09,611.36 2138.18,610.14 2139.28,598.41 2140.37,583.41 2141.03,578.95 2142.56,597.4 2143.66,607.81 2144.75,611.71 2145.85,612.34 2146.94,611.55 2148.04,607.94 2149.13,602.71 2150.01,600.03 2151.32,605.62 2152.42,608.24 2153.51,607.71 2155.16,602.99 2155.7,604.64 2156.8,607.45 2157.89,610.93 2158.99,611.09 2160.08,608.39 2161.18,597.8 2162.71,584 2163.37,588.23 2164.46,601.26 2165.56,604.95 2166.65,599.4 2167.42,594.75 2168.84,603.35 2169.94,608.85 2171.03,611.89 2172.13,607.97 2173.22,602.59 2173.77,602.45 2175.41,608.03 2176.51,610.22 2177.6,607.59 2178.7,596.85 2179.79,589.6 2180.89,596.3 2181.98,606.97 2183.08,610.03 2184.17,612.48 2185.27,611.43 2186.36,607.75 2187.46,602.12 2188.11,600.28 2189.65,606.62 2190.74,609.78 2191.84,609.78 2192.93,604.31 2193.48,605.06 2195.12,606.91 2196.22,607.2 2197.31,603.97 2197.86,603.8 2199.5,607.22 2200.6,611.95 2201.69,611.18 2202.79,611.61 2203.88,608.32 2205.53,604.18 2206.07,606.22 2207.17,609.51 2208.26,612.27 2209.36,612.28 2210.45,612.05 2211.55,608.58 2212.64,603.29 2213.19,604.09 2214.83,608.8 2215.93,611.01 2217.02,611.56 2218.12,608.18 2219.21,604.84 2219.76,605.59 2221.4,609.41 2222.5,610.66 2223.59,610.5 2224.69,610.63 2225.78,608.51 2227.43,602.56 2227.97,605.71 2229.07,609.43 2230.16,610.3 2231.26,611.9 2232.35,612.88 2233.45,611.63 2234.54,610.52 2235.64,611.62 2236.73,611.03 2237.83,605.49 2238.92,590.21 2240.02,577.75 2241.11,589.16 2242.21,603.3 2243.3,610.92 2244.4,608.47 2245.49,604.68 2246.04,603.01 2247.68,609.01 2248.78,611.51 2249.87,611.89 2250.97,612.16 2252.06,612.21 2253.16,609.92 2254.25,604.2 2254.8,605.55 2256.44,608.72 2257.54,610.96 2258.63,607.72 2259.73,593.79 2260.82,568.58 2261.48,562.73 2263.01,587.81 2264.11,605.03 2265.2,610.79 2266.3,610.07 2267.39,609.05 2269.03,604.96 2269.58,604.37 2270.68,608.37 2271.77,610.82 2272.87,611.98 2273.96,611.43 2275.06,611.19 2276.15,610.71 2277.25,612.12 2278.34,610.54 2279.44,603.3 2280.53,592.03 2281.41,586.71 2282.72,597.13 2283.82,608.52 2284.91,609.68 2286.01,607.07 2287.1,604.03 2287.65,603.68 2289.29,608.95 2290.39,611.54 2291.48,612.7 2292.58,611.92 2293.67,611.49 2294.77,611.62 2295.86,608.82 2296.96,601.28 2297.72,600.88 2299.15,606.16 2300.24,610.59 2301.34,611.21 2302.43,609.75 2304.07,604.95 2304.62,605.85 2305.72,608.13 2306.81,610.95 2307.91,610.61 2309,610.61 2310.1,607.68 2311.19,604.28 2311.74,603.89 2313.38,607.54 2314.48,610.58 2315.57,610.2 2316.67,609.13 2317.76,605.36 2318.75,604.33 2319.95,605.91 2321.05,610.47 2322.14,611.13 2323.24,599.92 2324.33,554.06 2325.97,475.34 2326.52,486.67 2327.62,553.77 2328.71,599.94 2329.81,609.68 2330.9,610.79 2332,609.51 2333.09,605.59 2333.64,604.67 2335.28,608.69 2336.38,610.1 2337.47,610.55 2338.57,611.37 2339.66,611.09 2340.76,603.11 2341.85,584.69" fill="none" stroke="#000" stroke-width="1.5" stroke-linejoin="round"/>
<rect x="1684" y="623.6" width="2.8" height="9.7" fill="#000"/>
<rect x="1793.5" y="623.6" width="2.8" height="9.7" fill="#000"/>
<rect x="1903" y="623.6" width="2.8" height="9.7" fill="#000"/>
<rect x="2012.5" y="623.6" width="2.8" height="9.7" fill="#000"/>
<rect x="2122" y="623.6" width="2.8" height="9.7" fill="#000"/>
<rect x="2231.5" y="623.6" width="2.8" height="9.7" fill="#000"/>
<rect x="2341" y="623.6" width="2.8" height="9.7" fill="#000"/>
<rect x="1738.75" y="623.6" width="2.8" height="4.6" fill="#000"/>
<rect x="1848.25" y="623.6" width="2.8" height="4.6" fill="#000"/>
<rect x="1957.75" y="623.6" width="2.8" height="4.6" fill="#000"/>
<rect x="2067.25" y="623.6" width="2.8" height="4.6" fill="#000"/>
<rect x="2176.75" y="623.6" width="2.8" height="4.6" fill="#000"/>
<rect x="2286.25" y="623.6" width="2.8" height="4.6" fill="#000"/>
<text transform="translate(1637.22,663.26) scale(0.9850,1)" font-size="31.6" fill="#000">16,600</text>
<text transform="translate(1746.72,663.26) scale(0.9850,1)" font-size="31.6" fill="#000">16,700</text>
<text transform="translate(1856.22,663.26) scale(0.9850,1)" font-size="31.6" fill="#000">16,800</text>
<text transform="translate(1965.72,663.26) scale(0.9850,1)" font-size="31.6" fill="#000">16,900</text>
<text transform="translate(2075.22,663.26) scale(0.9850,1)" font-size="31.6" fill="#000">17,000</text>
<text transform="translate(2184.72,663.26) scale(0.9850,1)" font-size="31.6" fill="#000">17,100</text>
<text transform="translate(2294.22,663.26) scale(0.9850,1)" font-size="31.6" fill="#000">17,200</text>
<text transform="translate(1709.91,157.63)" font-size="36.72" fill="#000">118</text>
<text x="1769.04" y="139.8" font-size="23.11">1</text>
<text transform="translate(1756.22,303.63)" font-size="36.58" fill="#000">120</text>
<text x="1814.19" y="286" font-size="23.26">1</text>
<text transform="translate(1776.08,387)" font-size="37.11" fill="#000">122</text>
<text x="1835.09" y="369" font-size="22.97">1</text>
<text transform="translate(1861.96,319.44)" font-size="36.02" fill="#000">129</text>
<text x="1920.99" y="301.7" font-size="22.67">1</text>
<text transform="translate(2254.99,400.44)" font-size="36.3" fill="#000">200</text>
<text x="2316.19" y="383.9" font-size="23.26">1</text>
<text transform="translate(1920.07,387.54) scale(0.8772,1)" font-size="35.41" fill="#000">(</text>
<text transform="translate(1933.02,387.43)" font-size="36.58" fill="#000">118</text>
<text x="1990.94" y="370" font-size="23.11">1</text>
<text transform="translate(2004.22,387.43)" font-size="36.58" fill="#000">19</text>
<text x="2043.24" y="370" font-size="23.11">1</text>
<text transform="translate(2056.93,387.54) scale(0.7916,1)" font-size="35.41" fill="#000">)</text>
<line x1="1749" y1="421" x2="1769.66" y2="328.79" stroke="#000" stroke-width="1.9" stroke-linecap="butt"/>
<polygon points="1772.5,316.1 1773.59,330.69 1765.29,328.83" fill="#000"/>
<line x1="1767" y1="473.8" x2="1784.45" y2="408.26" stroke="#000" stroke-width="1.9" stroke-linecap="butt"/>
<polygon points="1787.8,395.7 1788.3,410.32 1780.09,408.13" fill="#000"/>
<line x1="1822.3" y1="482.9" x2="1864.88" y2="344.53" stroke="#000" stroke-width="1.9" stroke-linecap="butt"/>
<polygon points="1868.7,332.1 1868.64,346.73 1860.52,344.23" fill="#000"/>
<line x1="1863.5" y1="465.8" x2="1916.85" y2="409.53" stroke="#000" stroke-width="1.9" stroke-linecap="butt"/>
<polygon points="1925.8,400.1 1919.25,413.18 1913.08,407.33" fill="#000"/>
<line x1="2322.6" y1="468.3" x2="2296.9" y2="417.79" stroke="#000" stroke-width="1.9" stroke-linecap="butt"/>
<polygon points="2291,406.2 2301.14,416.75 2293.56,420.6" fill="#000"/>
<polygon points="1553,808 1554,700 1556.7,702 1560,698 1565,690 1568,700 1571,706 1575,708 1578,736 1582,760 1586,752 1590,768 1594,776 1598,782 1602,772 1606,792 1609,778 1612,780 1615,790 1618,788 1620.5,779 1625,777 1628,779 1632,790 1636,795 1640,797 1645,801 1650,801 1660,803 1700,804 1740,804 1770,805 1783,806.5 1790,807.5 1800,808 1800,810.2 1649,810.2 1649,806.5 1571,806.5 1571,810.2 1553,810.2" fill="#000"/>
<line x1="1409.6" y1="810.2" x2="2356.4" y2="810.2" stroke="#000" stroke-width="2.6" stroke-linecap="butt"/>
<path d="M1469.5,810.2V604M1473,810.2V788M1474.2,810.2V782M1480.5,810.2V743.6M1485.5,810.2V796M1491.5,810.2V798M1500,810.2V800M1504,810.2V805M1508.5,810.2V799.5M1511.5,810.2V799M1516.5,810.2V793M1521.5,810.2V788M1525.7,810.2V796M1529.5,810.2V801M1533.9,810.2V779M1539.5,810.2V780M1541.5,810.2V776M1543.5,810.2V778M1547,810.2V766.3M1550.5,810.2V788M1540,810.2V775M1551.6,810.2V788M1554.2,810.2V681M1556.7,810.2V687.5M1558.7,810.2V646.3M1560.6,810.2V645M1562.5,810.2V643.1M1564.5,810.2V669.5M1566.4,810.2V124M1568.1,810.2V520M1569.6,810.2V698M1570.9,810.2V703M1572.8,806.5V605.8M1574.8,806.5V705.6M1576.7,806.5V581M1578.6,806.5V734M1580.9,806.5V723M1582.5,806.5V759.6M1583.8,806.5V748M1586.4,806.5V732M1588.7,806.5V755.8M1589.6,806.5V767.4M1591.8,806.5V735.2M1594.1,806.5V770M1596.6,806.5V781.5M1598.6,806.5V773.8M1600.5,806.5V759.6M1603.1,806.5V763.5M1606.3,806.5V791.8M1608.9,806.5V755.8M1610.8,806.5V730M1612.7,806.5V767.4M1614.4,806.5V786.7M1616.3,806.5V596.2M1618.5,806.5V645M1619.8,806.5V665.7M1622,806.5V686.3M1625,806.5V775.1M1627.9,806.5V677.3M1628.8,806.5V759.6M1631.4,806.5V779M1632.7,806.5V767.4M1634.6,806.5V795.7M1637.8,806.5V769.3M1640.4,806.5V789.3M1642.5,806.5V789.2M1644.3,806.5V789.3M1645.6,806.5V800.8M1650.7,810.2V796.3M1653.3,801.66V796.3M1657.8,802.56V791.8M1659,802.8V792M1662,803.05V789.2M1667,803.17V799.4M1677.5,803.44V796.2M1687.7,803.69V784.1M1698.9,803.97V792.9M1706,804V796.2M1714.4,804V774.4M1718.1,804V784.1M1722.5,804V798M1730,804V800M1734,804V800M1740.4,804.01V796.2M1744.7,804.16V797.1M1749.5,804.32V801M1755,804.5V802M1760,804.67V801M1766.8,804.89V797.1M1771,805.12V792.9M1775.2,805.6V802.2M1779.9,806.14V804M1790,807.5V806M1797,807.85V806.5M1805,808V806M1812,808V806.8M1820,808V807M1830,808V806.5M1840,808V807.5M1852,808V807M1860,808V805M1867.3,808V799.2M1870,808V804M1875,808V806M1885,808V807.5M1964.7,808V806.5M1968,808V807.5M1571.14,806.5V696.42M1622.85,806.5V771.25M1576.76,806.5V713.34M1641.86,806.5V791.32M1608.56,806.5V776.75M1553.35,810.2V765.02M1617.39,806.5V787.44M1640.31,806.5V794M1578.6,806.5V738.99M1662.73,803.07V792.73M1649.25,810.2V792.38M1556.75,810.2V697.34M1607.73,806.5V782.3M1657.72,802.54V797.38M1570.03,810.2V692.61M1566.74,810.2V682.8M1602.84,806.5V768.49M1590.72,806.5V762.66M1573.56,806.5V706.76M1648.25,806.5V797.71M1638.83,806.5V793.49M1659.56,802.91V790.4M1636.03,806.5V784.33M1616.88,806.5V778.53M1566.47,810.2V688.24M1643.97,806.5V797.36M1654.55,801.91V789.48M1598.06,806.5V776.75M1602.65,806.5V769.83M1662.43,803.06V797.65M1555.95,810.2V700.14M1631.99,806.5V776.07M1607.56,806.5V777.83M1613.55,806.5V774.68M1577.42,806.5V722.1M1614.21,806.5V778.66M1572.87,806.5V704.56M1591.3,806.5V757.63M1591.13,806.5V761.89M1586.73,806.5V753.46M1560.22,810.2V686.25M1638.47,806.5V790.99M1628.17,806.5V770M1651.86,810.2V787.96M1597.77,806.5V767.81M1658.76,802.75V794.48M1650.15,810.2V794.16M1594.31,806.5V773.01M1649.38,810.2V798.73M1560.63,810.2V685.72M1638.13,806.5V789.3M1645.07,806.5V800.27M1581.38,806.5V752.21M1599.15,806.5V776.73M1560.64,810.2V692.24M1651.91,810.2V787.61M1635.04,806.5V787.1M1580.74,806.5V739.04M1610.82,806.5V769.01M1556.11,810.2V698.6M1645.21,806.5V789.87M1649.96,810.2V792.58M1599.87,806.5V769.19M1646.43,806.5V796.69M1611.78,806.5V775.99M1637.51,806.5V795.61M1628.38,806.5V766.7M1555.59,810.2V692.86M1623.82,806.5V765.6M1617.28,806.5V784.88M1597.62,806.5V768M1652.62,810.2V799.65M1563.43,810.2V691.19M1555.78,810.2V695.07M1568.49,810.2V688.84M1625.09,806.5V775.29M1612.25,806.5V776.3M1607.33,806.5V782.74M1571.27,806.5V703.56M1594.56,806.5V766.9M1613.5,806.5V784.37M1631.2,806.5V775.56M1638.17,806.5V785.01M1553.86,810.2V708.57M1559.98,810.2V687.32M1572.28,806.5V696.68M1580.82,806.5V743.16M1587.5,806.5V757.4M1595.78,806.5V774.33M1652.08,810.2V797.29M1608.34,806.5V773.37M1657.3,802.46V801.08M1619.13,806.5V776.82M1633.8,806.5V778.71M1587.12,806.5V746.68M1610.84,806.5V771.37M1560.01,810.2V686.58M1660.45,803.01V798.04M1587.99,806.5V746.06M1564.84,810.2V689.2M1561.07,810.2V684.89M1636.59,806.5V789.02M1621.35,806.5V778.34M1623.91,806.5V771.29M1609.92,806.5V773.16M1597.17,806.5V777.59M1558.37,810.2V693.9M1580.18,806.5V739.2M1642.9,806.5V789.19M1603.16,806.5V774.49M1595.39,806.5V771.28M1622.5,806.5V764.63M1562.39,810.2V687.45M1607.11,806.5V776.79M1650.95,810.2V790.28M1621.95,806.5V767.74M1626.48,806.5V765.96M1629.89,806.5V774.64M1579.98,806.5V735.07M1595.45,806.5V769.58M1643.73,806.5V786.49M1587.39,806.5V753.19M1596.03,806.5V777.02M1613.86,806.5V785.08M1586.29,806.5V739.94M1634.66,806.5V786.85M1564.9,810.2V676.77M1630.43,806.5V782.81M1589.88,806.5V758.55M1627.98,806.5V775.33M1657.64,802.53V798.02M1580.97,806.5V741.96M1569.87,810.2V694.21M1574.99,806.5V699.62M1583.52,806.5V751.66M1656.48,802.3V795.76M1601.06,806.5V765.72M1583.87,806.5V753.82M1595.31,806.5V774.15M1573.73,806.5V693.91M1556.78,810.2V690.56M1655.82,802.16V792.3M1555.09,810.2V693.79M1557.32,810.2V692.74M1630.04,806.5V781.26M1553.84,810.2V710.07M1563.4,810.2V688.24M1602.95,806.5V764.24M1593.7,806.5V773.52M1640.09,806.5V785.56M1611.24,806.5V778.8M1573.63,806.5V701.67M1613.71,806.5V782.54M1641.26,806.5V786.2M1654.77,801.95V789.58M1554.94,810.2V692.54M1561.85,810.2V682.45M1635.16,806.5V783.32M1573.71,806.5V706.52M1642.67,806.5V790.65M1621.23,806.5V772.08M1641.01,806.5V793.08M1582.67,806.5V753.72M1585.78,806.5V743.66M1650.92,810.2V800.19M1560.44,810.2V690.13M1627.58,806.5V776.06M1582.68,806.5V757.81M1557.09,810.2V694.6M1627.88,806.5V769.78M1570.4,810.2V703.34M1655.4,802.08V794.54M1597.93,806.5V772.22M1633.06,806.5V783.98M1561.61,810.2V683.84M1576.51,806.5V721.51M1591.75,806.5V764.04M1622.1,806.5V775.85M1631.06,806.5V780.5M1570.82,810.2V693.73M1641.74,806.5V785.7M1627.74,806.5V775.79M1638.54,806.5V783.63M1611.66,806.5V767.05M1659.72,802.94V797.48M1656.6,802.32V789.21M1640.33,806.5V797.1M1591.71,806.5V762.83M1619.79,806.5V770.97M1624.15,806.5V775.12M1655.39,802.08V794.57M1649.99,810.2V798.1M1662.79,803.07V795.3M1638.31,806.5V785.8M1650.11,810.2V795.95M1562.11,810.2V688.95M1572.61,806.5V699.25M1642.65,806.5V794.05M1567.42,810.2V697.68M1599.52,806.5V770.06M1555.89,810.2V692.09M1576.2,806.5V717.66M1655.05,802.01V794.69M1651.46,810.2V794.1M1566.51,810.2V691.68M1599.67,806.5V768.86M1637.8,806.5V785.38M1624.59,806.5V773.64M1600.31,806.5V770.92M1606.85,806.5V784.3M1612.16,806.5V774.11M1556.91,810.2V690.22M1617.51,806.5V777.09M1634.02,806.5V782.29M1662.28,803.06V797.78M1596.3,806.5V779.39M1626.08,806.5V769.58M1616.41,806.5V775.09M1574.66,806.5V704.65M1633.76,806.5V780.82M1606.11,806.5V790.71M1593.75,806.5V763.92M1607.98,806.5V776.29M1595.84,806.5V769.96M1618.83,806.5V775.3M1648.18,806.5V790.48M1594.24,806.5V772.86M1639.01,806.5V785.4M1655.1,802.02V799.24M1646.25,806.5V788.53M1561.49,810.2V691.3M1622.7,806.5V775.97M1644.43,806.5V796.83M1628.06,806.5V775.02M1577,806.5V723.79M1607.73,806.5V773.93M1576.97,806.5V716.73M1589.86,806.5V758.36M1593.5,806.5V772.3M1568.51,810.2V700.22M1629.6,806.5V777.6M1566.56,810.2V682.86M1625.03,806.5V776.72M1632.72,806.5V782.58M1601.81,806.5V765.46M1658.84,802.77V797.53M1622.98,806.5V769M1593.23,806.5V769.61M1636.05,806.5V786.12M1603.26,806.5V771.11M1577.59,806.5V721.08M1555.19,810.2V691.87M1603.04,806.5V774.12M1617.55,806.5V780.14M1562.55,810.2V687.07M1571.16,806.5V694.89M1588.96,806.5V759.26M1576.69,806.5V723.13M1573.53,806.5V705.14M1738.02,804V796.37M1687.63,803.69V802.68M1726.81,804V802.96M1710.65,804V797.15M1685.39,803.63V797.34M1727.34,804V803.24M1690.32,803.76V798.36M1672.03,803.3V801.47M1732.09,804V796.64M1725.05,804V798.03M1661.13,803.03V800.3M1699.77,803.99V795.77M1704.69,804V796.94M1664.29,803.11V798.62M1771.43,805.17V798.22M1732.46,804V802.36M1775.78,805.67V804.95M1780.59,806.22V799.24M1749.96,804.33V799.56M1680.5,803.51V800.44M1742.99,804.1V798.2M1708.66,804V796.79M1666.68,803.17V800.58M1671.31,803.28V800.36M1759.12,804.64V797.86M1678.67,803.47V800.69M1674.02,803.35V797.39M1715.32,804V801.92M1706.77,804V796.21M1713.14,804V797.78M1738.46,804V799.74M1729.55,804V800.73M1684.8,803.62V799.17M1698.06,803.95V800.98M1683.32,803.58V795.36M1713.19,804V802.2M1663.97,803.1V801.17M1768.56,804.95V801.92M1743.38,804.11V802.04M1741.33,804.04V799.99M1752.05,804.4V799.65M1706.92,804V801.48M1734.28,804V796.51M1746.45,804.21V799.89M1701.06,804V795.98M1765.78,804.86V803.55M1744.91,804.16V797.21M1744.47,804.15V795.47M1769.88,805V802.78M1784.59,806.73V803.78M1707.48,804V795.21M1680.91,803.52V799.96M1738.24,804V801.54M1693.38,803.83V796.69M1736.56,804V797.31M1758.74,804.62V796.78M1771.7,805.2V797.79M1782.31,806.42V801.93M1747.7,804.26V799.63M1781.16,806.29V800.39M1713.82,804V798.02M1696.86,803.92V802.76M1708.29,804V802.77M1660.5,803.01V802.18M1716.79,804V797.13M1666.07,803.15V797.42M1673.92,803.35V798.75M1696.97,803.92V799.91M1748.99,804.3V800.58M1708.97,804V797.44M1674.48,803.36V800.22M1747.73,804.26V796.74M1782.43,806.43V804.12M1738.15,804V801.19M1747.73,804.26V796.64M1676.89,803.42V800.32M1777.03,805.81V802.64M1739.02,804V796.63M1694.84,803.87V796.82M1660.45,803.01V799.95M1680.86,803.52V800.41M1686.64,803.67V803.44M1760.39,804.68V803.12M1731.65,804V799.01M1766.19,804.87V797.25M1737.71,804V802.48M1755.11,804.5V803.63M1776.07,805.7V802.93M1691.6,803.79V801.84M1709.52,804V796.88M1766.86,804.9V798.18M1751.16,804.37V802.18M1700.15,804V801.26M1714.17,804V796.13M1784.49,806.71V805.96M1780.57,806.22V797.95M1717.61,804V797.76M1758.06,804.6V802.92M1736.98,804V795.16M1770.05,805.01V796.8M1670.59,803.26V796.83M1720.82,804V795.82M1680.86,803.52V798.58M1675.07,803.38V796.14M1750.32,804.34V804.06M1698.7,803.97V802.69M1739.43,804V798.33M1667.83,803.2V794.64M1780.66,806.23V802.26M1731.77,804V800.73M1735.77,804V800.41M1715.09,804V797.25M1683.31,803.58V800.9M1755.46,804.52V802.49M1668.6,803.22V795.01M1679.94,803.5V799.8M1699.19,803.98V801.62M1704.06,804V799.16M1674.51,803.36V798.56M1666.38,803.16V802.45M1488.17,810.2V807.24M1499.32,810.2V807.03M1538.95,810.2V805.57M1509.85,810.2V805.11M1526.87,810.2V806.94M1521.27,810.2V805.22M1514.75,810.2V805.19M1522.62,810.2V804.49M1493.13,810.2V805.51M1550.15,810.2V806.09M1544.42,810.2V807.82M1529.88,810.2V807.14M1532.02,810.2V806.51M1514.8,810.2V807.21M1492.56,810.2V804.74M1523.47,810.2V805.69M1481.26,810.2V807.03M1549.45,810.2V807.39M1515.03,810.2V805.41M1512.84,810.2V805.98M1549.61,810.2V805.07M1490.96,810.2V806.48M1505.58,810.2V805.46M1526,810.2V807.16M1527.39,810.2V806.48M1473.22,810.2V807.03M1502.15,810.2V807.41M1525.66,810.2V804.23M1546.52,810.2V805.68M1540.58,810.2V806.23M1518.93,810.2V804.63M1476.77,810.2V806.75M1501.93,810.2V806.84M1506.23,810.2V807.97M1526.32,810.2V804.37M1490.73,810.2V807.46M1498.77,810.2V805.01M1490.12,810.2V805.12M1485.82,810.2V805.82M1529.69,810.2V805.5M1478.76,810.2V804.37M1539.84,810.2V806.28M1540.75,810.2V805.8M1485.49,810.2V806.61M1537.66,810.2V806.35M1475.35,810.2V807.54M1486.9,810.2V805.86M1523.5,810.2V806.41M1504.3,810.2V804.35M1499.43,810.2V805.51M1488.37,810.2V806.14M1486.37,810.2V807.75M1498.94,810.2V807.74M1502.49,810.2V805.59M1515.93,810.2V805.02M1510.18,810.2V807.86M1530.19,810.2V806.59M1532.12,810.2V804.3M1513.94,810.2V807.2M1500.63,810.2V806.21M1864.68,808V807.75M1867.28,808V807.8M1795.83,807.79V806.24M1853.49,808V807.15M1857.44,808V807.47M1874.26,808V807.45M1836.91,808V807.16M1812.91,808V807.3M1883.17,808V807.64M1803.62,808V807.04M1838.87,808V806.8M1790.04,807.5V806.92M1810.58,808V806.15M1848.01,808V807.47M1879.87,808V807.74M1835.17,808V807.73M1833.76,808V807.35M1817.86,808V807.41M1829.73,808V806.74M1847.77,808V807.19M1811.06,808V807.79M1868.77,808V807.38M1826.45,808V806.89M1821.7,808V806.73M1853.17,808V807.8M1890,808V807.79M1793.48,807.67V807.17M1798.38,807.92V807.69M1820.13,808V807.02M1872.31,808V807.78M1881.85,808V807.73M1887.41,808V807.61M1895.18,808V807.68M1879.64,808V807.5M1801.14,808V807.59M1859.75,808V807.67M1789.17,807.38V806.5" stroke="#000" stroke-width="2.6" fill="none"/>
</svg>
</body></html>
